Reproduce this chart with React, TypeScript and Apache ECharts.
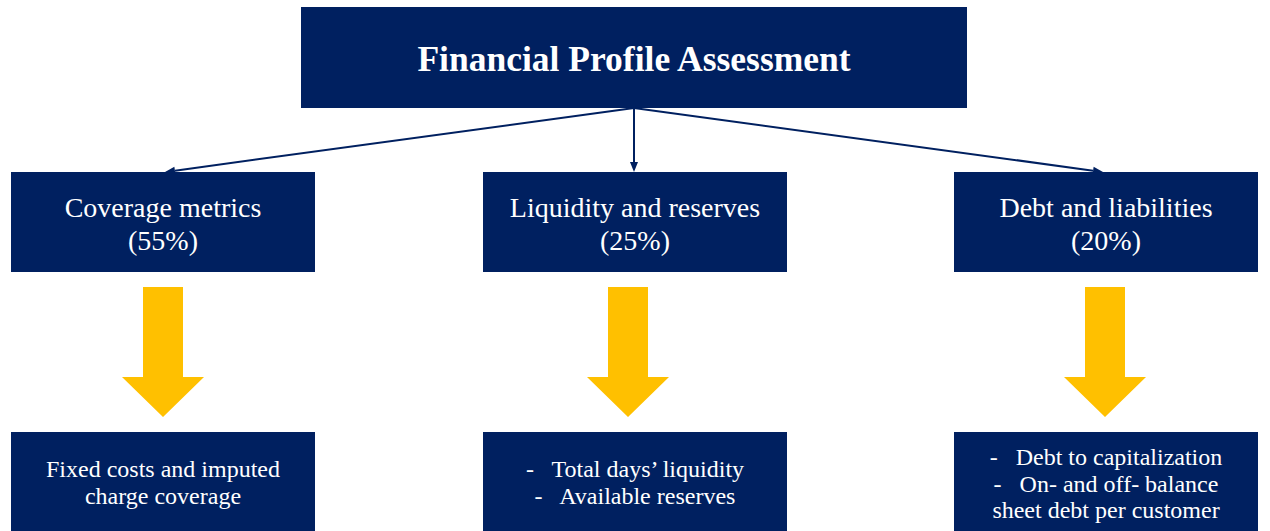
import React, { useEffect, useRef } from "react";
import * as echarts from "echarts";

const title = "Financial Profile Assessment";
const categories = ["Coverage metrics", "Liquidity and reserves", "Debt and liabilities"];
const weights = ["(55%)", "(25%)", "(20%)"];
const details: string[][] = [
  ["Fixed costs and imputed", "charge coverage"],
  ["-   Total days\u2019 liquidity", "-   Available reserves"],
  ["-   Debt to capitalization", "-   On- and off- balance", "sheet debt per customer"],
];

const NAVY = "#002060";
const GOLD = "#FFC000";
const FONT = "'Liberation Serif', 'DejaVu Serif', serif";

export default function App() {
  const ref = useRef<HTMLDivElement>(null);
  useEffect(() => {
    const chart = echarts.init(ref.current!, null, { renderer: "svg" });
    const els: any[] = [];
    // top box
    const top = { x: 301, y: 7, w: 666, h: 101 };
    els.push({ type: "rect", shape: { x: top.x, y: top.y, width: top.w, height: top.h }, style: { fill: NAVY } });
    els.push({
      type: "text", x: top.x + top.w / 2, y: top.y + top.h / 2 + 1,
      style: { text: title, fill: "#fff", font: `bold 35.5px ${FONT}`, align: "center", verticalAlign: "middle" },
    });
    const colX = [11, 483, 954];
    const boxW = 304;
    const topCx = 634;
    const topBy = 108;
    categories.forEach((c, i) => {
      const bx = colX[i];
      const cx = bx + boxW / 2;
      // connector line
      const tx = i === 0 ? 165 : i === 1 ? 634 : 1103;
      const ty = 172;
      const dx = tx - topCx, dy = ty - topBy;
      const len = Math.hypot(dx, dy);
      const ux = dx / len, uy = dy / len;
      const hl = 10, hw = 4;
      const bxp = tx - ux * hl, byp = ty - uy * hl;
      els.push({ type: "line", shape: { x1: topCx, y1: topBy, x2: bxp, y2: byp }, style: { stroke: NAVY, lineWidth: 2 } });
      els.push({
        type: "polygon",
        shape: { points: [[tx, ty], [bxp - uy * hw, byp + ux * hw], [bxp + uy * hw, byp - ux * hw]] },
        style: { fill: NAVY },
      });
      // mid box
      els.push({ type: "rect", shape: { x: bx, y: 172, width: boxW, height: 100 }, style: { fill: NAVY } });
      els.push({
        type: "text", x: cx, y: 207,
        style: { text: c, fill: "#fff", font: `28px ${FONT}`, align: "center", verticalAlign: "middle" },
      });
      els.push({
        type: "text", x: cx, y: 240,
        style: { text: weights[i], fill: "#fff", font: `28px ${FONT}`, align: "center", verticalAlign: "middle" },
      });
      // gold arrow
      const ax = [163, 628, 1105][i];
      els.push({
        type: "polygon",
        shape: {
          points: [
            [ax - 20, 287], [ax + 20, 287], [ax + 20, 377], [ax + 41, 377],
            [ax, 417], [ax - 41, 377], [ax - 20, 377],
          ],
        },
        style: { fill: GOLD },
      });
      // bottom box
      els.push({ type: "rect", shape: { x: bx, y: 432, width: boxW, height: 110 }, style: { fill: NAVY } });
      const lines = details[i];
      const lh = 26.5;
      const startY = lines.length === 2 ? 469 : 457;
      lines.forEach((t, j) => {
        els.push({
          type: "text", x: cx, y: startY + j * lh,
          style: { text: t, fill: "#fff", font: `24px ${FONT}`, align: "center", verticalAlign: "middle" },
        });
      });
    });
    chart.setOption({ animation: false, graphic: { elements: els } });
    return () => chart.dispose();
  }, []);
  return <div ref={ref} style={{ width: 1270, height: 531, position: "absolute", left: 0, top: 0, background: "#fff" }} />;
}
